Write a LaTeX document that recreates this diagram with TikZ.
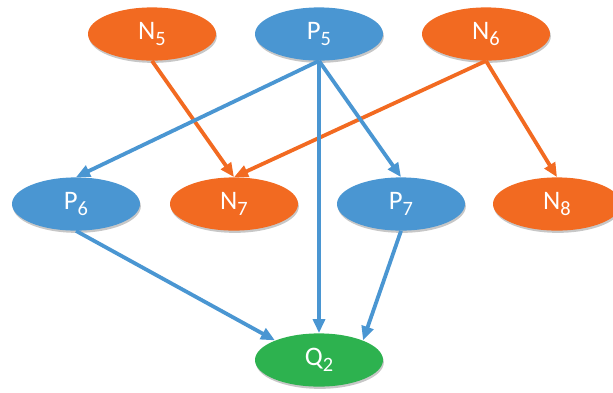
\documentclass[tikz,border=0pt]{standalone}
\usepackage{fontspec}
\setmainfont{Carlito}
\usepackage{tikz}
\usepackage{xcolor}
\usetikzlibrary{positioning,shapes.geometric,arrows.meta,shadows}

\definecolor{norange}{HTML}{F26A21}
\definecolor{pblue}{HTML}{4A96D2}
\definecolor{qgreen}{HTML}{2DB24F}
\newcommand{\lowidx}[1]{\raisebox{-4.6pt}{\fontsize{14.5}{15}\selectfont #1}}

\begin{document}
\begin{tikzpicture}[
    every node/.style={font=\fontsize{19}{21}\selectfont, text=white},
    cell/.style={ellipse, minimum width=3.2cm, minimum height=1.33cm, inner sep=0pt,
      drop shadow={shadow xshift=0.6pt, shadow yshift=-1.6pt, fill=black, opacity=0.22}},
    nnode/.style={cell, fill=norange},
    pnode/.style={cell, fill=pblue},
    qnode/.style={cell, fill=qgreen},
    link/.style={line width=2.7pt, -{Triangle[length=10pt,width=8.5pt]}},
    nlink/.style={link, norange},
    plink/.style={link, pblue}]
  \useasboundingbox (0,0) rectangle (15.325,-9.8);
  % top row
  \node[nnode] (n5) at (3.8,-0.85)   {N\lowidx{5}};
  \node[pnode] (p5) at (7.975,-0.85) {P\lowidx{5}};
  \node[nnode] (n6) at (12.15,-0.85) {N\lowidx{6}};
  % middle row
  \node[pnode] (p6) at (1.9,-5.1)    {P\lowidx{6}};
  \node[nnode] (n7) at (5.85,-5.1)   {N\lowidx{7}};
  \node[pnode] (p7) at (10.025,-5.1) {P\lowidx{7}};
  \node[nnode] (n8) at (13.925,-5.1) {N\lowidx{8}};
  % bottom
  \node[qnode] (q2) at (7.975,-9.0)  {Q\lowidx{2}};
  % connectors
  \draw[nlink] (n5.south) -- (n7.north);
  \draw[nlink] (n6.south) -- (n7.north);
  \draw[nlink] (n6.south) -- (n8.north);
  \draw[plink] (p5.south) -- (p6.north);
  \draw[plink] (p5.south) -- (p7.north);
  \draw[plink] (p5.south) -- (q2.north);
  \draw[plink] (p6.south) -- (q2.156);
  \draw[plink] (p7.south) -- (q2.24);
\end{tikzpicture}
\end{document}
